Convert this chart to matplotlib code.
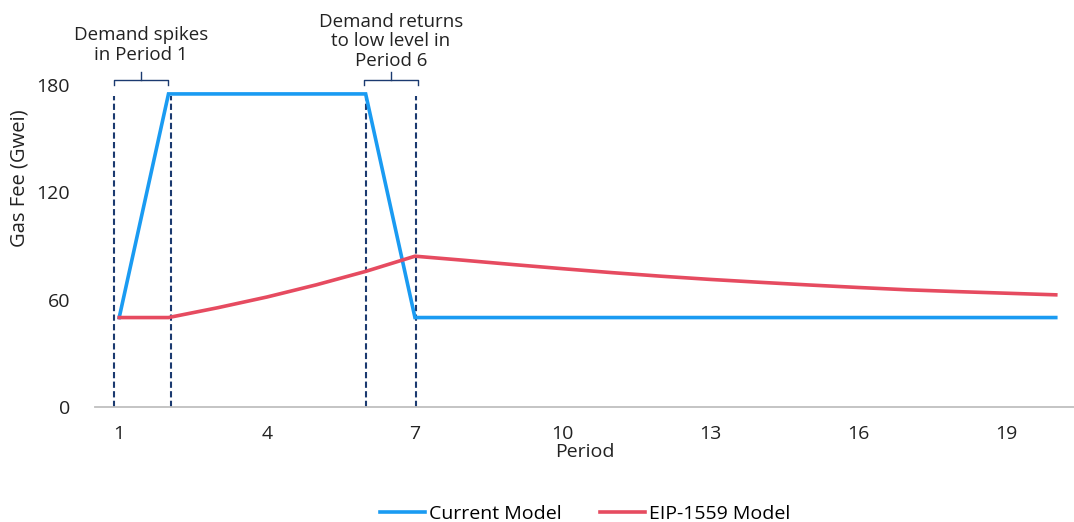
import numpy as np
import matplotlib.pyplot as plt

periods = list(range(1, 21))
current_model = [50, 175, 175, 175, 175, 175, 50, 50, 50, 50,
                 50, 50, 50, 50, 50, 50, 50, 50, 50, 50]
eip1559_model = [50, 50, 55.5, 61.5, 68.3, 75.8, 84.3, 82.0, 79.6, 77.3,
                 75.1, 73.1, 71.3, 69.7, 68.2, 66.8, 65.5, 64.5, 63.6, 62.7]
y_ticks = [0, 60, 120, 180]
x_ticks = [1, 4, 7, 10, 13, 16, 19]
marker_periods = [0.9, 2.05, 6.0, 7.03]
notes = ["Demand spikes\nin Period 1", "Demand returns\nto low level in\nPeriod 6"]

blue = "#1A9BF2"
red = "#E64B60"
navy = "#1B3A70"

plt.rcParams['font.family'] = ['Open Sans', 'DejaVu Sans']
fs = 14

fig = plt.figure(figsize=(10.74, 5.22), dpi=100)
ax = fig.add_axes([0.0885, 0.2203, 0.9115, 0.6169])

ax.plot(periods, current_model, color=blue, lw=2.6, label="Current Model",
        solid_joinstyle='miter', zorder=3)
ax.plot(periods, eip1559_model, color=red, lw=2.6, label="EIP-1559 Model",
        zorder=3)

for xp in marker_periods:
    ax.plot([xp, xp], [0, 174], color=navy, lw=1.5, ls=(0, (3, 1.6)), zorder=2)

# brackets above the dashed lines
for (x0, x1), note, ytxt in zip([(0.9, 1.98), (5.97, 7.06)], notes, [192, 188.5]):
    xm = (x0 + x1) / 2
    ax.plot([x0, x0, x1, x1], [180, 182.8, 182.8, 180], color=navy, lw=1,
            clip_on=False)
    ax.plot([xm, xm], [182.8, 187.5], color=navy, lw=1, clip_on=False)
    ax.text(xm, ytxt, note, ha='center', va='bottom', fontsize=13.5,
            linespacing=1.1, color='#222222')

ax.set_xlim(0.51, 20.37)
ax.set_ylim(0, 180)
ax.set_xticks(x_ticks)
ax.set_yticks(y_ticks)
ax.tick_params(axis='both', length=0, labelsize=fs, colors='#222222')
ax.tick_params(axis='x', pad=13)
ax.tick_params(axis='y', pad=18)
for s in ['top', 'right', 'left']:
    ax.spines[s].set_visible(False)
ax.spines['bottom'].set_color('#BFBFBF')
ax.spines['bottom'].set_linewidth(1.3)

ax.set_xlabel("Period", fontsize=fs, color='#222222', labelpad=0)
fig.text(0.018, 0.659, "Gas Fee (Gwei)", rotation=90, ha='center', va='center',
         fontsize=14.5, color='#222222')

fig.legend(loc='lower center', bbox_to_anchor=(0.545, -0.035), ncol=2,
           frameon=False, fontsize=fs, handlelength=2.3, handletextpad=0.2,
           columnspacing=2.0)

fig.savefig("out.png", dpi=100)
